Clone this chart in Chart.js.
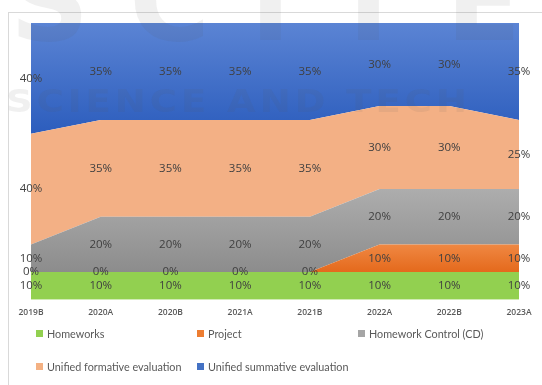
<!DOCTYPE html>
<html lang="en">
<head>
<meta charset="UTF-8">
<title>Evaluation weights</title>
<script src="https://cdn.jsdelivr.net/npm/chart.js"></script>
<style>
  html, body { margin: 0; padding: 0; background: #fff; }
  body { width: 542px; height: 385px; position: relative; overflow: hidden; font-family: "Open Sans", sans-serif; }
  #frame { position: absolute; left: 8px; top: 12px; right: -2px; bottom: -2px; border-left: 1px solid #d9d9d9; border-top: 1px solid #d9d9d9; }
  #wrap { position: absolute; left: 0; top: 0; width: 542px; height: 321px; }
  #legend { position: absolute; left: 0; top: 0; width: 542px; height: 385px; pointer-events: none; }
  .item { position: absolute; font-family: Lato, sans-serif; font-size: 10.8px; color: #595959; white-space: nowrap; line-height: 14px; }
  .item span.box { display: inline-block; width: 7px; height: 7px; margin-right: 4px; vertical-align: 1px; }
  .wm { position: absolute; white-space: nowrap; color: rgba(90,90,90,0.09); font-family: "DejaVu Sans", sans-serif; font-weight: bold; pointer-events: none; }
</style>
</head>
<body>
<div id="frame"></div>
<div id="wrap"><canvas id="chart"></canvas></div>
<div id="legend"></div>
<div class="wm" style="left:6px; top:80px; font-size:37px; letter-spacing:4px; transform:scaleY(0.85);">SCIENCE AND TECH</div>
<div class="wm" style="left:10px; top:-62px; font-size:110px; letter-spacing:40px;">SCITE</div>
<script>
const terms = ['2019B', '2020A', '2020B', '2021A', '2021B', '2022A', '2022B', '2023A'];
const homeworks = [10, 10, 10, 10, 10, 10, 10, 10];
const project = [0, 0, 0, 0, 0, 10, 10, 10];
const homeworkControl = [10, 20, 20, 20, 20, 20, 20, 20];
const formative = [40, 35, 35, 35, 35, 30, 30, 25];
const summative = [40, 35, 35, 35, 35, 30, 30, 35];
const seriesNames = ['Homeworks', 'Project', 'Homework Control (CD)', 'Unified formative evaluation', 'Unified summative evaluation'];

// vertical gradient between two fractions of the plot height
function grad(c1, c2, f1, f2) {
    return function (context) {
        const area = context.chart.chartArea;
        if (!area) return c1;
        const h = area.bottom - area.top;
        const g = context.chart.ctx.createLinearGradient(0, area.top + h * f1, 0, area.top + h * f2);
        g.addColorStop(0, c1);
        g.addColorStop(1, c2);
        return g;
    };
}

const fills = [
    '#92d050',
    grad('#f28e4a', '#e4691c', 0.78, 0.9),
    grad('#adadad', '#8c8c8c', 0.6, 0.9),
    '#f3b085',
    grad('#5b84d4', '#2c5dbd', 0, 0.4)
];
const legendColors = ['#92d050', '#ed7d31', '#a5a5a5', '#f4b183', '#4472c4'];
const values = [homeworks, project, homeworkControl, formative, summative];

const labelPlugin = {
    id: 'bandLabels',
    afterDatasetsDraw(chart) {
        const ctx = chart.ctx;
        const y = chart.scales.y;
        const x = chart.scales.x;
        ctx.save();
        ctx.font = '11.5px "Open Sans", sans-serif';
        ctx.fillStyle = '#404040';
        ctx.textAlign = 'center';
        ctx.textBaseline = 'middle';
        terms.forEach((t, i) => {
            let base = 0;
            values.forEach(arr => {
                const v = arr[i];
                const py = y.getPixelForValue(base + v / 2);
                ctx.fillText(v + '%', x.getPixelForValue(i), py);
                base += v;
            });
        });
        ctx.restore();
    }
};

new Chart(document.getElementById('chart'), {
    type: 'line',
    data: {
        labels: terms,
        datasets: values.map((arr, i) => ({
            label: seriesNames[i],
            data: arr,
            backgroundColor: fills[i],
            borderWidth: 0,
            pointRadius: 0,
            tension: 0,
            fill: i === 0 ? 'origin' : '-1'
        }))
    },
    options: {
        responsive: true,
        maintainAspectRatio: false,
        animation: false,
        layout: { padding: { left: 31, right: 23, top: 23, bottom: 3 } },
        plugins: { legend: { display: false }, tooltip: { enabled: false } },
        scales: {
            x: {
                offset: false,
                grid: { display: false },
                border: { display: false },
                ticks: { padding: 0, color: '#595959', font: { size: 8.5, weight: '600', family: '"Open Sans", sans-serif' }, maxRotation: 0 }
            },
            y: {
                display: false,
                stacked: true,
                min: 0,
                max: 100
            }
        }
    },
    plugins: [labelPlugin]
});

// legend laid out in a grid like the original
const legend = document.getElementById('legend');
const spots = [[36, 327], [197, 327], [358, 327], [36, 360], [197, 360]];
seriesNames.forEach((name, i) => {
    const d = document.createElement('div');
    d.className = 'item';
    d.style.left = spots[i][0] + 'px';
    d.style.top = spots[i][1] + 'px';
    d.innerHTML = '<span class="box" style="background:' + legendColors[i] + '"></span>' + name;
    legend.appendChild(d);
});
</script>
</body>
</html>
